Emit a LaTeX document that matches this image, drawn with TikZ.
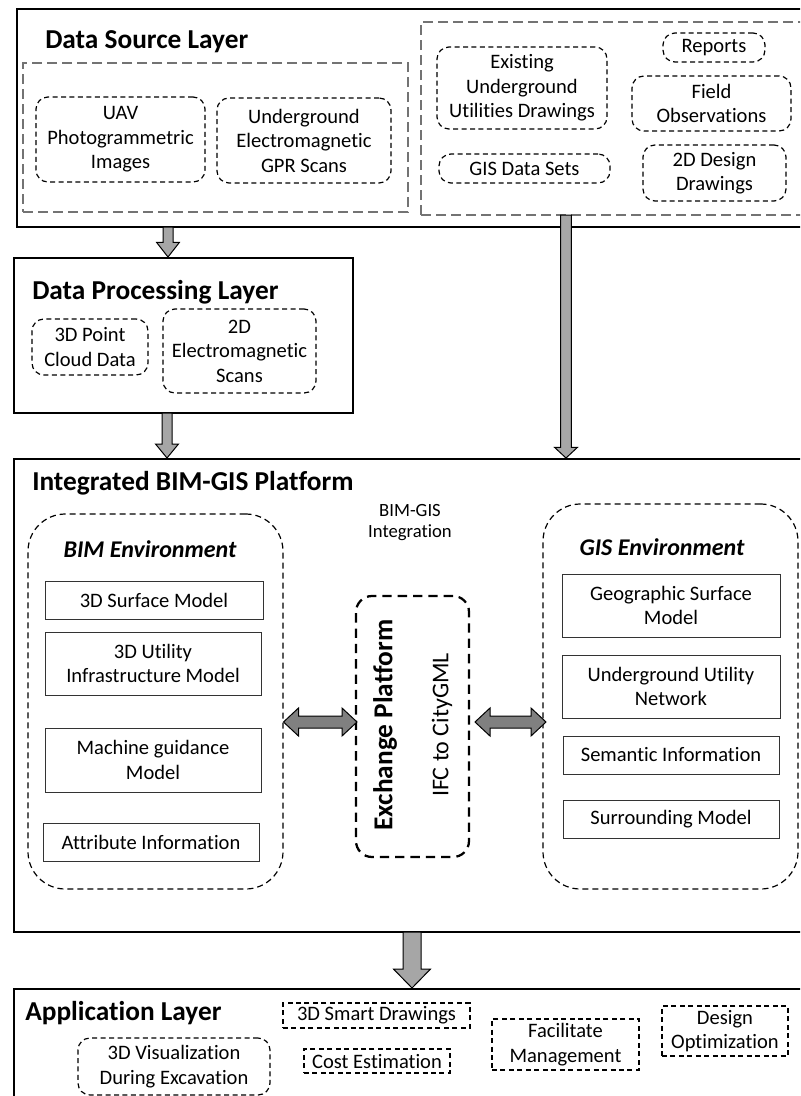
\documentclass[tikz,border=0pt]{standalone}
\usepackage{fontspec}
\setmainfont{Carlito}[Ligatures=NoCommon]
\usetikzlibrary{calc}

\tikzset{
 base/.style={inner sep=0pt, align=center, font=\fontsize{15.4}{18.4}\selectfont},
 layerbox/.style={draw, line width=1.1pt, inner sep=0pt},
 srcgroup/.style={draw=black!55, line width=1pt, dash pattern=on 7.5pt off 3.75pt, inner sep=0pt},
 rbox/.style={base, draw, line width=0.9pt, dash pattern=on 3.75pt off 2.6pt, rounded corners=9pt},
 sbox/.style={base, draw=black!80, line width=0.75pt},
 envbox/.style={draw, line width=0.9pt, dash pattern=on 4.5pt off 3pt, rounded corners=28pt, inner sep=0pt},
 exbox/.style={draw, line width=1.7pt, dash pattern=on 7pt off 4.5pt, rounded corners=12pt, inner sep=0pt},
 appbox/.style={base, draw, line width=0.9pt, dash pattern=on 3.75pt off 2.6pt},
 title/.style={anchor=base west, inner sep=0pt, font=\fontsize{20.5}{24}\selectfont\bfseries},
 envtitle/.style={anchor=base, inner sep=0pt, font=\fontsize{18}{22}\selectfont\bfseries\itshape},
 varrowstyle/.style={draw, line width=0.75pt, fill=black!35},
 darrowstyle/.style={draw, line width=0.75pt, fill=black!50},
}

% box in pixel coordinates: #1 style, #2 name, #3 x1, #4 y1, #5 x2, #6 y2, #7 text
\newcommand\pxbox[7]{%
  \node[#1, minimum width={(#5-#3)*0.75pt}, minimum height={(#6-#4)*0.75pt}]
    (#2) at ({(#3+#5)/2},{(#4+#6)/2}) {#7};}

% #1 start, #2 end (below), #3 half shaft, #4 half head, #5 head length
\newcommand\downArrowShape[5]{%
  \draw[varrowstyle] let \p1=(#1), \p2=(#2) in
   (\x1-#3,\y1) -- (\x1-#3,\y2+#5) -- (\x1-#4,\y2+#5) -- (\x1,\y2) --
   (\x1+#4,\y2+#5) -- (\x1+#3,\y2+#5) -- (\x1+#3,\y1) -- cycle;}
% #1 left tip, #2 right tip, #3 half shaft, #4 half head, #5 head length
\newcommand\dblArrowShape[5]{%
  \draw[darrowstyle] let \p1=(#1), \p2=(#2) in
   (\x1,\y1) -- (\x1+#5,\y1+#4) -- (\x1+#5,\y1+#3) -- (\x2-#5,\y1+#3) --
   (\x2-#5,\y1+#4) -- (\x2,\y1) -- (\x2-#5,\y1-#4) -- (\x2-#5,\y1-#3) --
   (\x1+#5,\y1-#3) -- (\x1+#5,\y1-#4) -- cycle;}

\begin{document}
\begin{tikzpicture}[x=0.75pt,y=-0.75pt]
\useasboundingbox (0,0) rectangle (800,1096);
\clip (0,0) rectangle (800,1096);

% ---------- Data Source Layer ----------
\pxbox{layerbox}{dsl}{17}{9}{802}{227}{}
\node[title] (dslt) at (45,48) {Data Source Layer};
\pxbox{srcgroup}{g1}{23}{63}{408}{212}{}
\pxbox{srcgroup}{g2}{421}{22}{803}{215}{}
\pxbox{rbox}{uav}{36}{97}{205}{182}{UAV\\Photogrammetric\\Images}
\pxbox{rbox}{gpr}{217}{98}{391}{183}{Underground\\Electromagnetic\\GPR Scans}
\pxbox{rbox}{exist}{437}{47}{607}{129}{Existing\\Underground\\Utilities Drawings}
\pxbox{rbox}{rep}{663}{33}{765}{62}{Reports}
\pxbox{rbox}{field}{632}{76}{791}{131}{Field\\Observations}
\pxbox{rbox}{gisds}{439}{154}{610}{183}{GIS Data Sets}
\pxbox{rbox}{design2d}{643}{145}{786}{201}{2D Design\\Drawings}

% ---------- Data Processing Layer ----------
\pxbox{layerbox}{dpl}{14}{258}{353}{413}{}
\node[title] (dplt) at (32,299) {Data Processing Layer};
\pxbox{rbox}{pcd}{32}{319}{148}{375}{3D Point\\Cloud Data}
\pxbox{rbox}{em2d}{163}{309}{316}{393}{2D\\Electromagnetic\\Scans}

% ---------- Integrated BIM-GIS Platform ----------
\pxbox{layerbox}{ibg}{14}{459}{802}{932}{}
\node[title] (ibgt) at (32,490) {Integrated BIM-GIS Platform};
\node[base, font=\fontsize{14}{15.75}\selectfont] (integ) at (410,523) {BIM-GIS\\Integration};

\pxbox{envbox}{bim}{28}{514}{283}{889}{}
\node[envtitle] (bimt) at (150,557) {BIM Environment};
\pxbox{sbox}{surf}{45}{581}{263}{619}{3D Surface Model}
\pxbox{sbox}{util}{45}{632}{261}{695}{3D Utility\\Infrastructure Model}
\pxbox{sbox}{mach}{45}{728}{261}{792}{Machine guidance\\Model}
\pxbox{sbox}{attr}{43}{823}{259}{861}{Attribute Information}

\pxbox{exbox}{exch}{356}{596}{469}{857}{}
\node[rotate=90, inner sep=0pt, font=\fontsize{20.5}{24}\selectfont\bfseries] (exct) at (385,725) {Exchange Platform};
\node[rotate=90, inner sep=0pt, font=\fontsize{18}{22}\selectfont] (ifc) at (442,725) {IFC to CityGML};

\pxbox{envbox}{gis}{543}{504}{798}{889}{}
\node[envtitle] (gist) at (662,555) {GIS Environment};
\pxbox{sbox}{geo}{562}{574}{780}{637}{Geographic Surface\\Model}
\pxbox{sbox}{ugn}{562}{655}{780}{718}{Underground Utility\\Network}
\pxbox{sbox}{sem}{563}{736}{779}{774}{Semantic Information}
\pxbox{sbox}{sur}{563}{800}{779}{838}{Surrounding Model}

% ---------- Application Layer ----------
\pxbox{layerbox}{app}{14}{989}{802}{1100}{}
\node[title] (appt) at (25,1020) {Application Layer};
\pxbox{appbox}{smart}{283}{1003}{470}{1028}{3D Smart Drawings}
\pxbox{appbox}{cost}{304}{1049}{450}{1073}{Cost Estimation}
\pxbox{appbox}{fac}{492}{1019}{639}{1070}{Facilitate\\Management}
\pxbox{appbox}{opt}{662}{1006}{788}{1056}{Design\\Optimization}
\pxbox{rbox}{vis}{78}{1038}{270}{1095}{3D Visualization\\During Excavation}

% ---------- Arrows ----------
\coordinate (a1s) at (168,227); \coordinate (a1e) at (168,257);
\coordinate (a2s) at (167,413); \coordinate (a2e) at (167,458);
\coordinate (a3s) at (566,215); \coordinate (a3e) at (566,458);
\coordinate (a4s) at (412,932); \coordinate (a4e) at (412,988);
\downArrowShape{a1s}{a1e}{3.75pt}{8.6pt}{11pt}
\downArrowShape{a2s}{a2e}{3.75pt}{8.6pt}{10.5pt}
\downArrowShape{a3s}{a3e}{4.1pt}{8.6pt}{8pt}
\downArrowShape{a4s}{a4e}{6.75pt}{13.9pt}{14.25pt}

\coordinate (d1l) at (283.5,722); \coordinate (d1r) at (357,722);
\coordinate (d2l) at (475,722); \coordinate (d2r) at (546,722);
\dblArrowShape{d1l}{d1r}{4.5pt}{10.5pt}{11.25pt}
\dblArrowShape{d2l}{d2r}{4.5pt}{10.5pt}{11.25pt}
\end{tikzpicture}
\end{document}
